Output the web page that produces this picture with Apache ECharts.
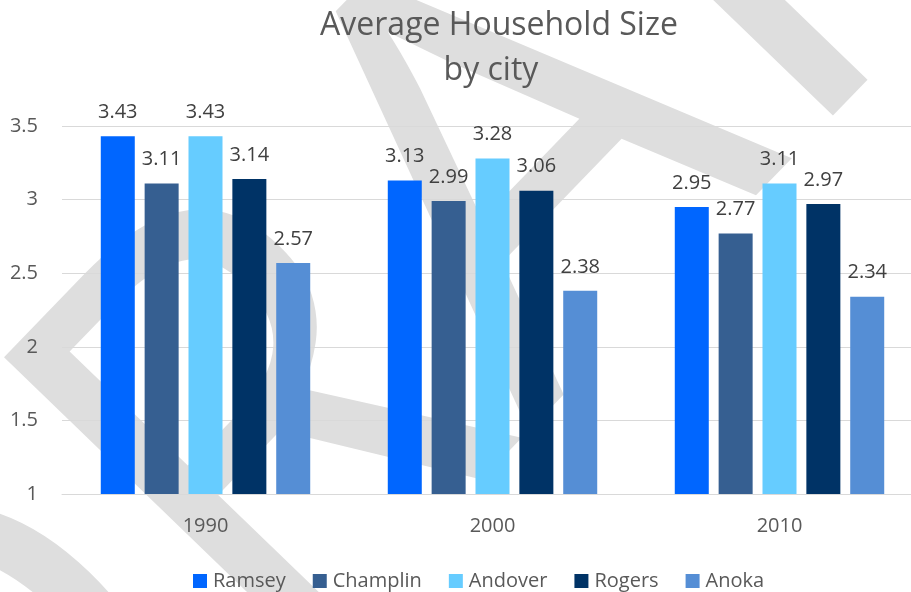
<!DOCTYPE html>
<html>
<head>
<meta charset="utf-8">
<script src="https://cdn.jsdelivr.net/npm/echarts@6/dist/echarts.min.js"></script>
<style>html,body{margin:0;padding:0;background:#fff}#c{width:911px;height:592px}</style>
</head>
<body>
<div id="c"></div>
<script>
const categories = ['1990', '2000', '2010'];
const ramsey   = [3.43, 3.13, 2.95];
const champlin = [3.11, 2.99, 2.77];
const andover  = [3.43, 3.28, 3.11];
const rogers   = [3.14, 3.06, 2.97];
const anoka    = [2.57, 2.38, 2.34];
const seriesNames = ['Ramsey', 'Champlin', 'Andover', 'Rogers', 'Anoka'];
const seriesData = [ramsey, champlin, andover, rogers, anoka];
const colors = ['#0066FF', '#365F91', '#66CCFF', '#003366', '#558ED5'];

const FONT = 'Open Sans';
const chart = echarts.init(document.getElementById('c'));
chart.setOption({
  animation: false,
  backgroundColor: '#ffffff',
  color: colors,
  graphic: [
    { type: 'text', z: -10, x: 480, y: 235, rotation: 46 * Math.PI / 180, silent: true,
      style: { text: 'DRAFT', fontFamily: FONT, fontSize: 600, fill: '#dedede', align: 'center', verticalAlign: 'middle' } },
    { type: 'text', z: 10, x: 499, y: 25.5, silent: true,
      style: { text: 'Average Household Size', fontFamily: FONT, fontSize: 32, fill: '#595959', align: 'center', verticalAlign: 'middle' } },
    { type: 'text', z: 10, x: 491, y: 70.5, silent: true,
      style: { text: 'by city', fontFamily: FONT, fontSize: 32, fill: '#595959', align: 'center', verticalAlign: 'middle' } }
  ],
  legend: {
    data: seriesNames,
    top: 566, left: 188,
    icon: 'rect', itemWidth: 14, itemHeight: 14, itemGap: 27,
    textStyle: { fontFamily: FONT, fontSize: 20, color: '#595959', padding: [0, 0, 0, 1] }
  },
  grid: { left: 62, right: -12, top: 126, bottom: 98, containLabel: false, outerBoundsMode: 'none' },
  xAxis: {
    type: 'category', data: categories,
    axisLine: { lineStyle: { color: '#d9d9d9', width: 1 } },
    axisTick: { show: false },
    axisLabel: { fontFamily: FONT, fontSize: 20, color: '#595959', margin: 22 }
  },
  yAxis: {
    type: 'value', min: 1, max: 3.5, interval: 0.5,
    axisLine: { show: false }, axisTick: { show: false },
    splitLine: { lineStyle: { color: '#d9d9d9', width: 1 } },
    axisLabel: { fontFamily: FONT, fontSize: 20, color: '#595959', margin: 24 }
  },
  series: seriesNames.map((n, i) => ({
    name: n, type: 'bar', data: seriesData[i],
    barWidth: 34, barGap: '29%',
    itemStyle: { color: colors[i] },
    label: { show: true, position: 'top', distance: 14, fontFamily: FONT, fontSize: 20, color: '#404040' }
  }))
});
</script>
</body>
</html>
